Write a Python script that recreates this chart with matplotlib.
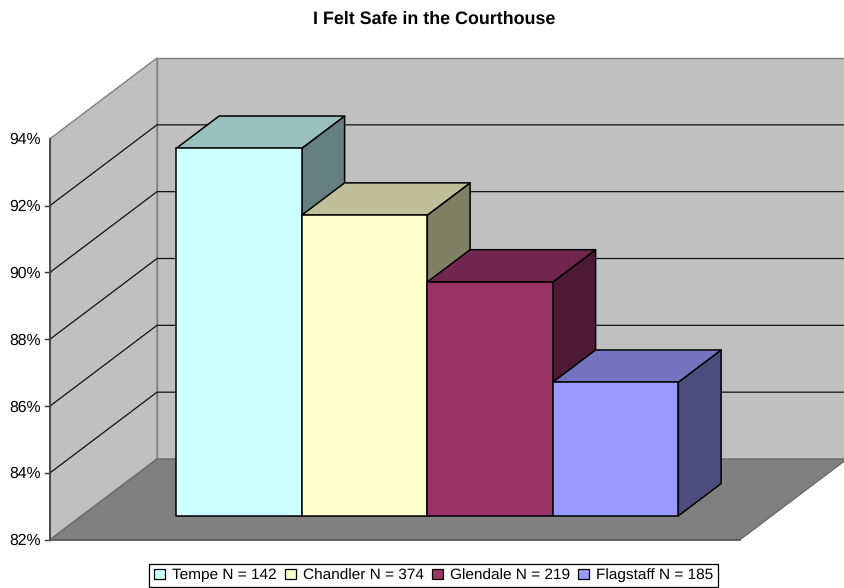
import matplotlib
matplotlib.use('Agg')
from matplotlib import pyplot as plt
from matplotlib.patches import Patch, Polygon
from matplotlib.colors import to_rgb

plt.rcParams['font.family'] = ['Liberation Sans', 'DejaVu Sans']
plt.rcParams['text.hinting'] = 'no_hinting'

# Data
courts = ['Tempe N = 142', 'Chandler N = 374', 'Glendale N = 219', 'Flagstaff N = 185']
values = [93, 91, 89, 86]
colors = ['#CCFFFF', '#FFFFCC', '#993366', '#9999FF']
ticks = [82, 84, 86, 88, 90, 92, 94]

# Oblique projection of the 3D box, in pixels
X0, Y0 = 50.0, 539.7
PX_PER_PCT = (539.7 - 138.7) / 12.0
DEPTH_X, DEPTH_Y = 107.0, 80.7
FLOOR_W = 690.0
BAR_W = 125.5
BAR_X0 = 126.3       # first bar, from front left corner
BAR_D0 = 0.295       # bar front, as part of the depth
BAR_D1 = 0.695       # bar back


def pt(x, val, d=0.0):
    return (X0 + x + d * DEPTH_X, Y0 - (val - ticks[0]) * PX_PER_PCT - d * DEPTH_Y)


def shade(color, f):
    return tuple(c * f for c in to_rgb(color))


fig = plt.figure(figsize=(8.44, 5.88), dpi=100)
ax = fig.add_axes([0, 0, 1, 1])
ax.set_xlim(0, 844)
ax.set_ylim(588, 0)
ax.axis('off')

low, high = ticks[0], ticks[-1]
edge = '#808080'

# Walls and floor
ax.add_patch(Polygon([pt(0, low, 1), pt(FLOOR_W, low, 1), pt(FLOOR_W, high, 1), pt(0, high, 1)],
                     fc='#C0C0C0', ec=edge, lw=1.0))
ax.add_patch(Polygon([pt(0, low), pt(0, low, 1), pt(0, high, 1), pt(0, high)],
                     fc='#C0C0C0', ec=edge, lw=1.0))
ax.add_patch(Polygon([pt(0, low), pt(FLOOR_W, low), pt(FLOOR_W, low, 1), pt(0, low, 1)],
                     fc='#808080', ec='#6a6a6a', lw=1.0))

# Gridlines and tick labels
for t in ticks:
    if t != low and t != high:
        ax.plot(*zip(pt(0, t), pt(0, t, 1), pt(FLOOR_W, t, 1)), color='#111111', lw=0.9)
    if t != high:
        ax.plot(*zip(pt(-5, t), pt(0, t)), color='#333333', lw=1.0)
    ax.text(pt(-9, t)[0], pt(0, t)[1] + 1.3, '%d%%' % t, ha='right', va='center', fontsize=11.3, color='black')

ax.plot(*zip(pt(0, low), pt(0, high)), color='#444444', lw=1.3)
ax.plot(*zip(pt(0, low), pt(FLOOR_W, low)), color='#555555', lw=1.1)

# Bars
for i, (val, col) in enumerate(zip(values, colors)):
    x1 = BAR_X0 + i * BAR_W
    x2 = x1 + BAR_W
    # BAR_X0 is measured at the bar front, so take off the depth shift there
    x1 -= BAR_D0 * DEPTH_X
    x2 -= BAR_D0 * DEPTH_X
    front = [pt(x1, low, BAR_D0), pt(x2, low, BAR_D0), pt(x2, val, BAR_D0), pt(x1, val, BAR_D0)]
    top = [pt(x1, val, BAR_D0), pt(x2, val, BAR_D0), pt(x2, val, BAR_D1), pt(x1, val, BAR_D1)]
    side = [pt(x2, low, BAR_D0), pt(x2, low, BAR_D1), pt(x2, val, BAR_D1), pt(x2, val, BAR_D0)]
    ax.add_patch(Polygon(side, fc=shade(col, 0.5), ec='black', lw=1.1, joinstyle='round', zorder=3 + i))
    ax.add_patch(Polygon(top, fc=shade(col, 0.75), ec='black', lw=1.1, joinstyle='round', zorder=3 + i))
    ax.add_patch(Polygon(front, fc=col, ec='black', lw=1.1, joinstyle='round', zorder=3 + i))

ax.text(434, 19.5, 'I Felt Safe in the Courthouse', ha='center', va='center',
        fontsize=12.9, fontweight='bold', color='black')

handles = [Patch(fc=c, ec='black', lw=0.9) for c in colors]
leg = ax.legend(handles, courts, loc='center', bbox_to_anchor=(433.5 / 844, 1 - 575.5 / 588),
                ncol=4, fontsize=11.1, frameon=True, fancybox=False, framealpha=1,
                edgecolor='black', handlelength=0.72, handleheight=0.72, handletextpad=0.45,
                columnspacing=0.53, borderpad=0.28, borderaxespad=0)
leg.get_frame().set_linewidth(0.9)

fig.savefig('out.png', dpi=100)
